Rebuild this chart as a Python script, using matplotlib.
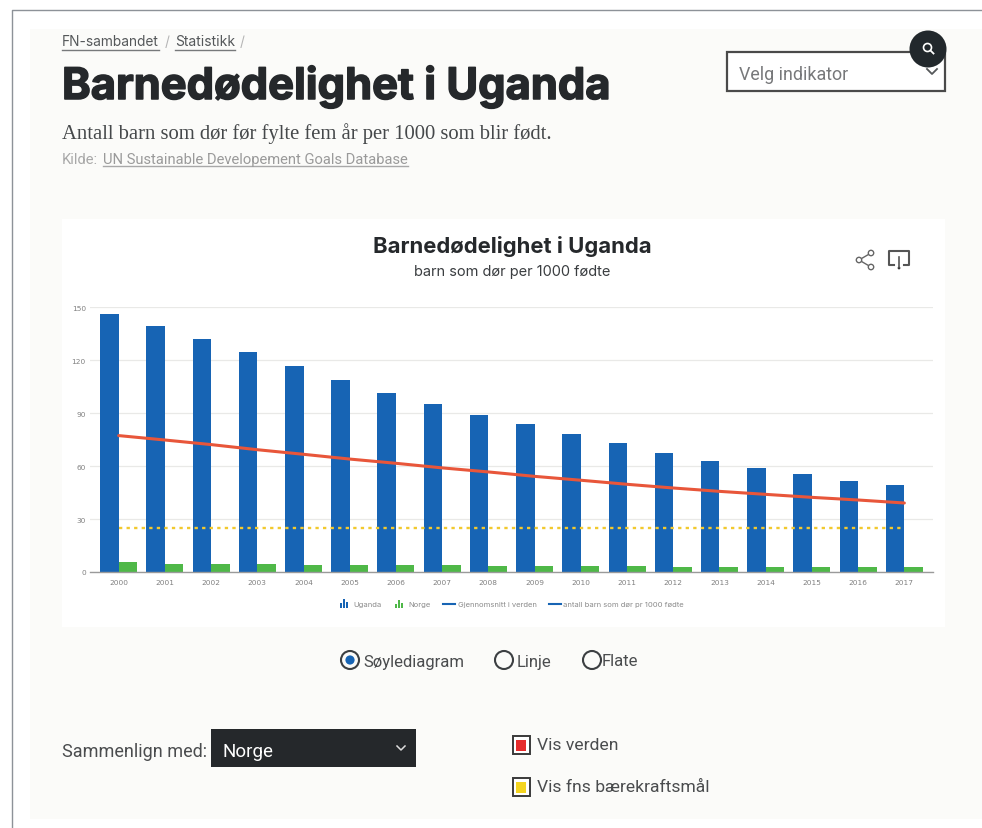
import matplotlib
matplotlib.use("Agg")
import matplotlib.pyplot as plt
import matplotlib.patheffects as pe
from matplotlib.patches import Rectangle, Circle
import numpy as np

years = [2000, 2001, 2002, 2003, 2004, 2005, 2006, 2007, 2008,
         2009, 2010, 2011, 2012, 2013, 2014, 2015, 2016, 2017]
uganda = [146.2, 139.6, 132.2, 124.5, 116.6, 109.0, 101.6, 95.2, 89.2,
          83.7, 78.0, 73.1, 67.4, 62.7, 58.9, 55.4, 51.8, 49.3]
norge = [5.5, 4.8, 4.7, 4.3, 4.2, 4.1, 3.9, 3.7, 3.6,
         3.5, 3.4, 3.3, 2.9, 2.8, 2.7, 2.7, 2.7, 2.6]
verden = [77.3, 74.8, 72.2, 69.3, 66.7, 64.0, 61.6, 59.0, 56.7,
          54.2, 52.0, 49.7, 47.6, 45.7, 44.0, 42.3, 40.8, 39.1]
maal = [25] * 18
y_ticks = [0, 30, 60, 90, 120, 150]
legend_labels = ["Uganda", "Norge", "Gjennomsnitt i verden", "antall barn som dør pr 1000 fødte"]

W, H = 982, 829
BLUE = "#1764b4"
GREEN = "#4fb848"
RED = "#e8563a"
YELLOW = "#f2c92e"
DARK = "#25282b"

fig = plt.figure(figsize=(W / 100, H / 100), dpi=100, facecolor="white")

# page chrome in pixel coordinates
page = fig.add_axes([0, 0, 1, 1])
page.set_xlim(0, W)
page.set_ylim(H, 0)
page.axis("off")

page.add_patch(Rectangle((30, 30), 952, 790, fc="#fbfbf9", ec="none"))
page.add_patch(Rectangle((62, 220), 883, 408, fc="white", ec="none"))
page.plot([12, 12, 982], [829, 11, 11], color="#8d9298", lw=1)

def label(x, y, s, size, color=DARK, weight="normal", family="Roboto", ha="left"):
	return page.text(x, y, s, fontsize=size, color=color, fontweight=weight,
	                 family=family, ha=ha, va="center")

# breadcrumb
label(62, 42, "FN-sambandet", 9.9, "#55585a", family="Inter")
label(165, 42, "/", 9.9, "#b5b5b5", family="Inter")
label(175, 42, "Statistikk", 10, "#55585a", family="Inter")
label(240, 42, "/", 9.9, "#b5b5b5", family="Inter")
page.plot([62, 159], [50.5, 50.5], color="#77797b", lw=1)
page.plot([175, 235], [50.5, 50.5], color="#77797b", lw=1)

head = label(62, 87.5, "Barnedødelighet i Uganda", 31.3, DARK, "bold", "Inter")
head.set_path_effects([pe.withStroke(linewidth=1.1, foreground=DARK)])
label(62, 133.5, "Antall barn som dør før fylte fem år per 1000 som blir født.", 14.9, "#45484a", family="Liberation Serif")
label(62, 160, "Kilde:", 10.6, "#a8a8a8")
label(103, 160, "UN Sustainable Developement Goals Database", 10.6, "#9a9a9a")
page.plot([103, 408], [166.5, 166.5], color="#a8a8a8", lw=1)

# indikator select
page.add_patch(Rectangle((727, 53), 218, 39, fc="white", ec="#4a4a4a", lw=1.6))
label(739, 75, "Velg indikator", 12.9, "#77787a")
page.plot([927, 932, 937], [70, 75, 70], color="#55585a", lw=1.3)
page.add_patch(Circle((928, 50), 18.5, fc="#22282c", ec="none", zorder=3))
page.add_patch(Circle((927.5, 48.5), 4, fc="none", ec="white", lw=1.2, zorder=4))
page.plot([930.5, 933.5], [51.5, 54.5], color="white", lw=1.3, zorder=4)

# chart heading
label(512, 246, "Barnedødelighet i Uganda", 15.9, DARK, "bold", "Inter", "center")
label(512, 272, "barn som dør per 1000 fødte", 10.5, "#3a3d40", family="Inter", ha="center")

# share icon
for cx, cy in [(871, 254), (859, 261), (871, 268)]:
	page.add_patch(Circle((cx, cy), 2.7, fc="white", ec="#666666", lw=1, zorder=3))
page.plot([871, 859, 871], [254, 261, 268], color="#666666", lw=1, zorder=2)
# download icon
page.plot([894, 889, 889, 909, 909, 904], [266, 266, 252, 252, 266, 266], color="#555555", lw=1.5)
page.plot([899, 899], [258, 268], color="#555555", lw=1.2)
page.add_patch(Circle((899, 269), 1.4, fc="#333333", ec="none"))

# the chart itself
left, right, top, bottom = 90, 933, 308.3, 573
ax = fig.add_axes([left / W, 1 - bottom / H, (right - left) / W, (bottom - top) / H])
ax.patch.set_alpha(0)
x = np.arange(len(years))
ax.set_xlim(-0.62, 17.62)
ax.set_ylim(0, 150)
ax.bar(x - 0.2, uganda, 0.4, color=BLUE, zorder=2)
ax.bar(x + 0.2, norge, 0.4, color=GREEN, zorder=2)
ax.plot(x, verden, color=RED, lw=2.2, zorder=3, solid_capstyle="round")
ax.plot(x, maal, color=YELLOW, lw=1.7, ls=(0, (1.4, 1.8)), zorder=3)
ax.set_yticks(y_ticks)
ax.set_xticks(x)
ax.set_xticklabels(years)
ax.tick_params(length=0, labelsize=5.3, labelcolor="#808080", pad=5)
ax.tick_params(axis="y", pad=3)
ax.grid(axis="y", color="#e9e9e7", lw=0.9, zorder=0)
ax.set_axisbelow(True)
for s in ["top", "right", "left"]:
	ax.spines[s].set_visible(False)
ax.spines["bottom"].set_color("#9a9a9a")
ax.spines["bottom"].set_linewidth(1)

# legend, drawn by hand so the little bar icons match
for i, h in enumerate([5, 9, 6]):
	page.add_patch(Rectangle((340 + i * 3, 609 - h), 2, h, fc=BLUE, ec="none"))
	page.add_patch(Rectangle((395 + i * 3, 609 - [4, 8, 5][i]), 2, [4, 8, 5][i], fc=GREEN, ec="none"))
label(353, 605, legend_labels[0], 5.5, "#8c8c8c", family="Inter")
label(408, 605, legend_labels[1], 5.5, "#8c8c8c", family="Inter")
page.plot([443, 455], [604.5, 604.5], color=BLUE, lw=1.5)
label(458, 605, legend_labels[2], 5.5, "#8c8c8c", family="Inter")
page.plot([549, 561], [604.5, 604.5], color=BLUE, lw=1.5)
label(563, 605, legend_labels[3], 5.5, "#8c8c8c", family="Inter")

# radio buttons
for cx, tx, txt in [(350, 363, "Søylediagram"), (504, 517, "Linje"), (592, 602, "Flate")]:
	page.add_patch(Circle((cx, 661), 9, fc="none", ec="#3c3f42", lw=1.5))
	label(tx, 662, txt, 12, "#4a4c4e")
page.add_patch(Circle((350, 661), 4.6, fc=BLUE, ec="none"))

# compare with
label(62, 752, "Sammenlign med:", 13, "#4a4c4e")
page.add_patch(Rectangle((211, 730), 205, 38, fc=DARK, ec="none"))
label(223, 752, "Norge", 13.5, "white")
page.plot([397, 401, 405], [747, 751, 747], color="#dddddd", lw=1.1)

# checkboxes
for cy, col, txt in [(746, "#e62b2b", "Vis verden"), (788, "#f4d41f", "Vis fns bærekraftsmål")]:
	page.add_patch(Rectangle((513, cy - 9), 17, 18, fc="white", ec="#3a3a3a", lw=1.4))
	page.add_patch(Rectangle((516.5, cy - 5.5), 10, 11, fc=col, ec="none"))
	label(537, cy, txt, 12.6, "#4a4c4e")

fig.savefig("out.png", dpi=100)
